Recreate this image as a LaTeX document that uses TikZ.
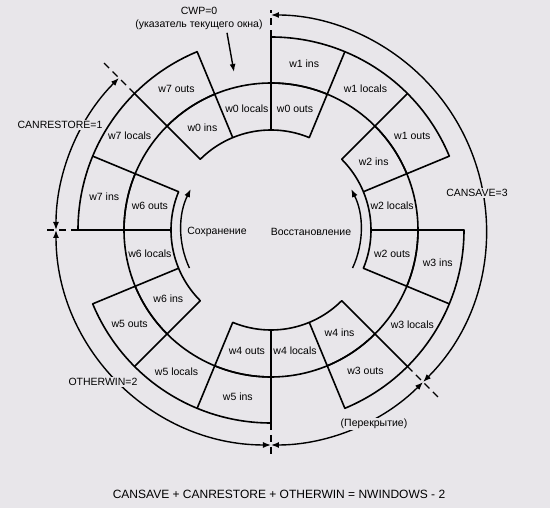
\documentclass[tikz,border=0pt]{standalone}
\usepackage{fontspec}
\setmainfont{Liberation Sans}
\usetikzlibrary{arrows.meta}
\definecolor{paper}{RGB}{232,230,234}

\begin{document}
\begin{tikzpicture}[x=1pt, y=1pt, line join=round, >={Latex[length=8pt,width=6pt]}, font=\fontsize{10.5}{13}\selectfont]
	\tikzset{ring/.style={line width=1.6pt},
		span/.style={line width=1.4pt},
		dashtick/.style={line width=1.4pt, dash pattern=on 7pt off 5pt},
		spanlabel/.style={fill=paper, inner sep=1pt}}
	
	\def \rin{100}
	\def \rmid{147}
	\def \rout{193}
	\def \rspan{215}
	\fill[paper] (-271,-278) rectangle (279,230);
	\useasboundingbox (-271,-278) rectangle (279,230);
	% register windows w0..w7
	\foreach \k in {0,...,7} {
		\pgfmathsetmacro{\a}{135-45*\k}
		\pgfmathsetmacro{\b}{\a-67.5}
		\ifodd\k \def\ra{\rmid}\def\rb{\rout}\else \def\ra{\rin}\def\rb{\rmid}\fi
		\pgfmathsetmacro{\rc}{(\ra+\rb)/2}
		\draw[ring] (\a:\ra) -- (\a:\rb) arc[start angle=\a, end angle=\b, radius=\rb] -- (\b:\ra) arc[start angle=\b, end angle=\a, radius=\ra] -- cycle;
		\draw[ring] ({\a-22.5}:\ra) -- ({\a-22.5}:\rb) ({\a-45}:\ra) -- ({\a-45}:\rb);
		\node (w\k-ins) at ({\a-11.25}:\rc) {w\k\ ins};
		\node (w\k-locals) at ({\a-33.75}:\rc) {w\k\ locals};
		\node (w\k-outs) at ({\a-56.25}:\rc) {w\k\ outs};
	}
	% ticks
	\foreach \t/\r in {90/220, 135/237, 180/228, -90/224, -45/237}
		\draw[dashtick] (\t:\rout) -- (\t:\r);
	% counters
	\draw[span,<->] (-45:\rspan) arc[start angle=-45, end angle=90, radius=\rspan];
	\draw[span,<->] (135:\rspan) arc[start angle=135, end angle=180, radius=\rspan];
	\draw[span,<->] (180:\rspan) arc[start angle=180, end angle=270, radius=\rspan];
	\draw[span,<->] (-90:\rspan) arc[start angle=-90, end angle=-45, radius=\rspan];
	\node[spanlabel] (cansave) at (206,37) {CANSAVE=3};
	\node[spanlabel] (canrestore) at (-211,105) {CANRESTORE=1};
	\node[spanlabel] (otherwin) at (-168,-152) {OTHERWIN=2};
	\node[spanlabel] (overlap) at (103,-194) {(Перекрытие)};
	% current window pointer
	\node[align=center] (cwp) at (-72,212) {CWP=0\\(указатель текущего окна)};
	\coordinate (cwptip) at (-37,158);
	\draw[span,->] ([xshift=28pt]cwp.south) -- (cwptip);
	% save / restore direction
	\draw[span,->] (205:90) arc[start angle=205, end angle=153, radius=90];
	\draw[span,->] (-25:90) arc[start angle=-25, end angle=27, radius=90];
	\node (save) at (-54,-2) {Сохранение};
	\node (restore) at (40,-2) {Восстановление};
	\node[font=\fontsize{12}{14}\selectfont] (sum) at (8,-264) {CANSAVE + CANRESTORE + OTHERWIN = NWINDOWS - 2};
\end{tikzpicture}
\end{document}
